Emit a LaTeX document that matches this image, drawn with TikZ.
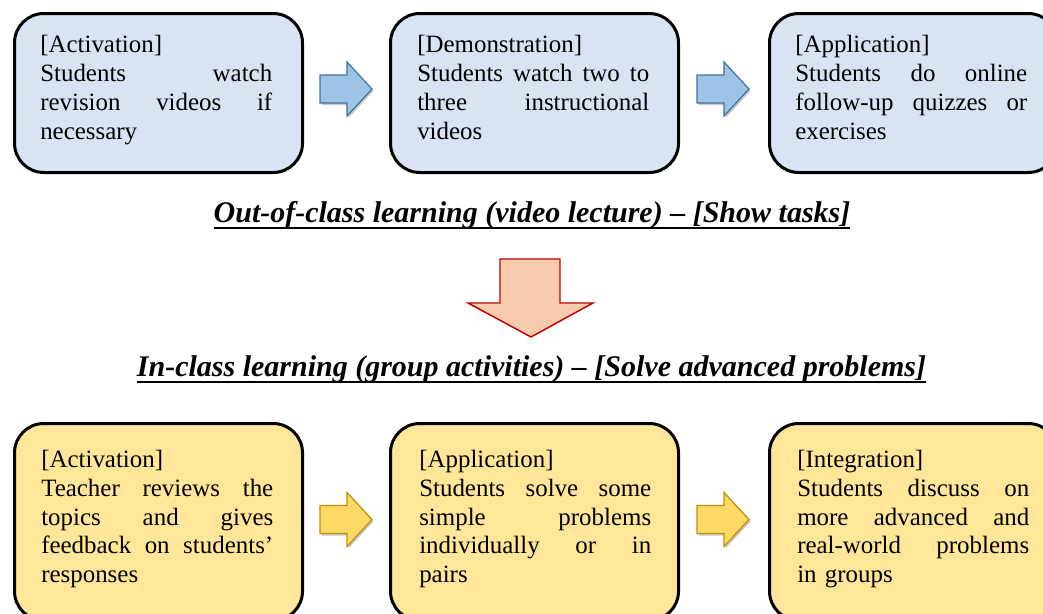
\documentclass[tikz,border=0pt]{standalone}
\usepackage{fontspec}
\setmainfont{Liberation Serif}
\definecolor{boxblue}{HTML}{DAE3F3}
\definecolor{boxyellow}{HTML}{FFE699}
\definecolor{arrblue}{HTML}{9DC3E6}
\definecolor{arrblueline}{HTML}{41719C}
\definecolor{arryellow}{HTML}{FFD966}
\definecolor{arryellowline}{HTML}{BF9000}
\definecolor{arrred}{HTML}{F8CBAD}
\definecolor{arrredline}{HTML}{C00000}
\newlength\boxtw
\setlength\boxtw{174pt}
\newcommand\jline[1]{\leavevmode\hbox to \boxtw{\spaceskip=0.25em plus 1fil\relax #1}}
\newcommand\myul[1]{\setbox0=\hbox{#1}\rlap{\rule[-5.25pt]{\wd0}{1.5pt}}\box0}
\begin{document}
\begin{tikzpicture}[x=0.75pt,y=-0.75pt,
  card/.style={draw=black, line width=2.25pt, rounded corners=22pt, anchor=north west,
    inner sep=0pt, minimum width=216pt},
  topcard/.style={card, fill=boxblue, minimum height=119.25pt},
  botcard/.style={card, fill=boxyellow, minimum height=147.75pt},
  txt/.style={anchor=north west, inner sep=0pt, align=left, text width=174pt,
    font=\fontsize{18.7pt}{21.6pt}\selectfont},
  title/.style={anchor=base, inner sep=0pt, font=\fontsize{22.5pt}{27pt}\selectfont\bfseries\itshape},
  rarr/.pic={\path[pic actions] (0,-14) -- (27,-14) -- (27,-27) -- (52,0) -- (27,27) -- (27,14) -- (0,14) -- cycle;},
  shadowarr/.style={fill=black!22, draw=none},
  bluearr/.style={fill=arrblue, draw=arrblueline, line width=0.9pt, line join=miter},
  yellowarr/.style={fill=arryellow, draw=arryellowline, line width=0.9pt, line join=miter},
]
\useasboundingbox (0,0) rectangle (1043,614);
\clip (0,0) rectangle (1043,614);

% top row
\node[topcard] (o1) at (13,12) {};
\node[topcard] (o2) at (389,12) {};
\node[topcard] (o3) at (768,12) {};
\node[txt] (to1) at (40,32.5) {\strut[Activation]\\ \jline{Students watch}\\ \jline{revision videos if}\\ necessary};
\node[txt] (to2) at (417,32.5) {\strut[Demonstration]\\ \jline{Students watch two to}\\ \jline{three instructional}\\ videos};
\node[txt] (to3) at (795,32.5) {\strut[Application]\\ \jline{Students do online}\\ \jline{follow-up quizzes or}\\ exercises};

\pic[shadowarr] at (321.5,91) {rarr};
\pic[bluearr] at (320,89) {rarr};
\pic[shadowarr] at (698.5,91) {rarr};
\pic[bluearr] at (697,89) {rarr};

% titles
\node[title] (tout) at (532,222) {\myul{Out-of-class learning (video lecture) – [Show tasks]}};
\node[title] (tin) at (531.5,376) {\myul{In-class learning (group activities) – [Solve advanced problems]}};

% big down arrow
\draw[fill=arrred, draw=arrredline, line width=1.1pt, line join=miter]
  (500,259) -- (560,259) -- (560,303) -- (593,303) -- (531,337) -- (468,303) -- (500,303) -- cycle;

% bottom row
\node[botcard] (i1) at (13,422) {};
\node[botcard] (i2) at (389,422) {};
\node[botcard] (i3) at (768,422) {};
\node[txt] (ti1) at (41,447) {\strut[Activation]\\ \jline{Teacher reviews the}\\ \jline{topics and gives}\\ \jline{feedback on students’}\\ responses};
\node[txt] (ti2) at (419,447) {\strut[Application]\\ \jline{Students solve some}\\ \jline{simple problems}\\ \jline{individually or in}\\ pairs};
\node[txt] (ti3) at (797,447) {\strut[Integration]\\ \jline{Students discuss on}\\ \jline{more advanced and}\\ \jline{real-world problems}\\ in groups};

\pic[shadowarr] at (321.5,521.5) {rarr};
\pic[yellowarr] at (320,519.5) {rarr};
\pic[shadowarr] at (698.5,521.5) {rarr};
\pic[yellowarr] at (697,519.5) {rarr};
\end{tikzpicture}
\end{document}
